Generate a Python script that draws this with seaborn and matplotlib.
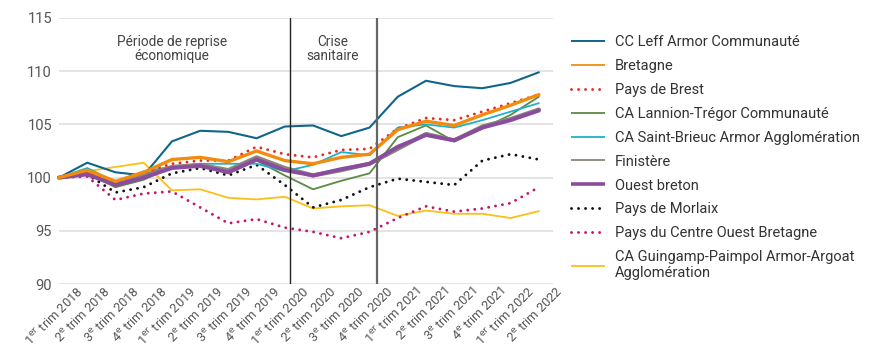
import numpy as np
import pandas as pd
import matplotlib
matplotlib.use("Agg")
import matplotlib.pyplot as plt
import matplotlib.transforms as mtransforms
from matplotlib.lines import Line2D
import seaborn as sns

sns.set_theme(style="white")
plt.rcParams["font.family"] = ["Roboto", "DejaVu Sans"]

# Quarter labels (superscript ordinal suffixes)
quarters = [
    r"1$^{\mathrm{er}}$ trim 2018", r"2$^{\mathrm{e}}$ trim 2018", r"3$^{\mathrm{e}}$ trim 2018", r"4$^{\mathrm{e}}$ trim 2018",
    r"1$^{\mathrm{er}}$ trim 2019", r"2$^{\mathrm{e}}$ trim 2019", r"3$^{\mathrm{e}}$ trim 2019", r"4$^{\mathrm{e}}$ trim 2019",
    r"1$^{\mathrm{er}}$ trim 2020", r"2$^{\mathrm{e}}$ trim 2020", r"3$^{\mathrm{e}}$ trim 2020", r"4$^{\mathrm{e}}$ trim 2020",
    r"1$^{\mathrm{er}}$ trim 2021", r"2$^{\mathrm{e}}$ trim 2021", r"3$^{\mathrm{e}}$ trim 2021", r"4$^{\mathrm{e}}$ trim 2021",
    r"1$^{\mathrm{er}}$ trim 2022", r"2$^{\mathrm{e}}$ trim 2022",
]

# Employment index, base 100 = 1st quarter 2018
leff_armor = [100, 101.4, 100.5, 100.2, 103.4, 104.4, 104.3, 103.7, 104.8, 104.9, 103.9, 104.7, 107.6, 109.1, 108.6, 108.4, 108.9, 109.9]
bretagne = [100, 100.7, 99.65, 100.5, 101.7, 101.9, 101.5, 102.5, 101.6, 101.3, 101.9, 102.2, 104.5, 105.3, 104.9, 105.9, 106.8, 107.8]
pays_brest = [100, 100.6, 99.6, 100.5, 101.3, 101.6, 101.6, 102.9, 102.2, 101.9, 102.6, 102.7, 104.6, 105.6, 105.4, 106.2, 107.0, 107.8]
lannion_tregor = [100, 100.4, 99.1, 99.8, 101.0, 101.2, 100.4, 101.6, 100.2, 98.9, 99.7, 100.4, 103.8, 104.9, 103.4, 104.6, 105.9, 107.6]
saint_brieuc = [100, 100.9, 99.6, 100.6, 101.0, 101.3, 101.3, 101.3, 100.6, 101.2, 102.4, 102.1, 104.7, 105.0, 104.7, 105.4, 106.2, 107.0]
finistere = [100, 100.4, 99.4, 100.2, 101.0, 101.2, 100.7, 101.9, 100.9, 100.2, 100.7, 101.3, 102.7, 104.1, 103.5, 104.8, 105.5, 106.4]
ouest_breton = [100, 100.3, 99.3, 100.0, 100.9, 101.1, 100.5, 101.7, 100.7, 100.2, 100.8, 101.3, 102.9, 104.0, 103.5, 104.7, 105.4, 106.3]
pays_morlaix = [100, 100.3, 98.6, 99.1, 100.4, 100.9, 100.2, 101.2, 99.3, 97.2, 97.9, 99.1, 99.9, 99.6, 99.3, 101.6, 102.2, 101.7]
centre_ouest = [100, 100.1, 97.9, 98.5, 98.7, 97.2, 95.7, 96.1, 95.3, 94.9, 94.3, 94.9, 96.2, 97.3, 96.8, 97.1, 97.6, 99.1]
guingamp_paimpol = [100, 100.6, 101.0, 101.4, 98.8, 98.9, 98.1, 97.95, 98.2, 97.1, 97.3, 97.4, 96.4, 96.9, 96.6, 96.6, 96.2, 96.85]

dot = (0, (0.01, 2.4))
series = [
    ("CC Leff Armor Communauté", leff_armor, "#0f6688", 1.5, "-", 1.4),
    ("Bretagne", bretagne, "#f28c0f", 2.4, "-", 1.3),
    ("Pays de Brest", pays_brest, "#e8281e", 2.1, dot, 2.1),
    ("CA Lannion-Trégor Communauté", lannion_tregor, "#5b8a45", 1.3, "-", 1.3),
    ("CA Saint-Brieuc Armor Agglomération", saint_brieuc, "#1eb1c9", 1.3, "-", 1.3),
    ("Finistère", finistere, "#8a857c", 3.0, "-", 1.3),
    ("Ouest breton", ouest_breton, "#8a4c9e", 2.8, "-", 2.6),
    ("Pays de Morlaix", pays_morlaix, "#111111", 2.1, dot, 2.1),
    ("Pays du Centre Ouest Bretagne", centre_ouest, "#c4146f", 2.1, dot, 2.1),
    ("CA Guingamp-Paimpol Armor-Argoat\nAgglomération", guingamp_paimpol, "#fbbf16", 1.3, "-", 1.3),
]

fig = plt.figure(figsize=(8.84, 3.51), dpi=100)
ax = fig.add_axes([59 / 884, 1 - 284 / 351, (553 - 59) / 884, (284 - 18) / 351])

x = np.arange(len(quarters))
draw_order = [9, 8, 7, 3, 4, 0, 5, 6, 2, 1]
z = {idx: 3 + k for k, idx in enumerate(draw_order)}
for idx, (name, vals, color, lw, ls, _) in enumerate(series):
    df = pd.DataFrame({"x": x, "v": vals})
    sns.lineplot(data=df, x="x", y="v", ax=ax, color=color, linewidth=lw,
                 linestyle=ls, dash_capstyle="round", solid_capstyle="round",
                 zorder=z[idx], legend=False, clip_on=False)

# Period separators
ax.axvline(8.2, color="#222222", linewidth=1.0, zorder=20)
ax.axvline(11.25, color="#666666", linewidth=1.6, zorder=20)

ax.text(4.0, 113.4, "Période de reprise\néconomique", ha="center", va="top",
        fontsize=9.8, color="#444444", linespacing=1.0)
ax.text(9.7, 113.4, "Crise\nsanitaire", ha="center", va="top",
        fontsize=9.8, color="#444444", linespacing=1.0)

ax.set_xlim(0, 17.5)
ax.set_ylim(90, 115)
ax.set_yticks([90, 95, 100, 105, 110, 115])
ax.grid(axis="y", color="#e4e4e4", linewidth=1.4)
ax.set_axisbelow(True)
for s in ax.spines.values():
    s.set_visible(False)
ax.set_xlabel("")
ax.set_ylabel("")
ax.tick_params(axis="y", labelsize=10.5, labelcolor="#555555", length=0, pad=5)
ax.tick_params(axis="x", length=0, pad=1)
ax.set_xticks(x)
ax.set_xticklabels(quarters, rotation=45, ha="right", rotation_mode="anchor",
                   fontsize=9.2, color="#555555")
offset = mtransforms.ScaledTranslation(17 / 100, 1 / 100, fig.dpi_scale_trans)
for lab in ax.get_xticklabels():
    lab.set_transform(lab.get_transform() + offset)

handles = [Line2D([0], [0], color=c, linewidth=hlw, linestyle=ls,
                  dash_capstyle="round", solid_capstyle="butt")
           for (_, _, c, _, ls, hlw) in series]
labels = [s[0] for s in series]
fig.legend(handles, labels, loc="upper left", bbox_to_anchor=(571 / 884, 1 - 35 / 351),
           frameon=False, fontsize=10.5, handlelength=2.35, handletextpad=0.65,
           labelspacing=0.68, borderpad=0, borderaxespad=0, labelcolor="#333333")

fig.savefig("out.png", dpi=100)
